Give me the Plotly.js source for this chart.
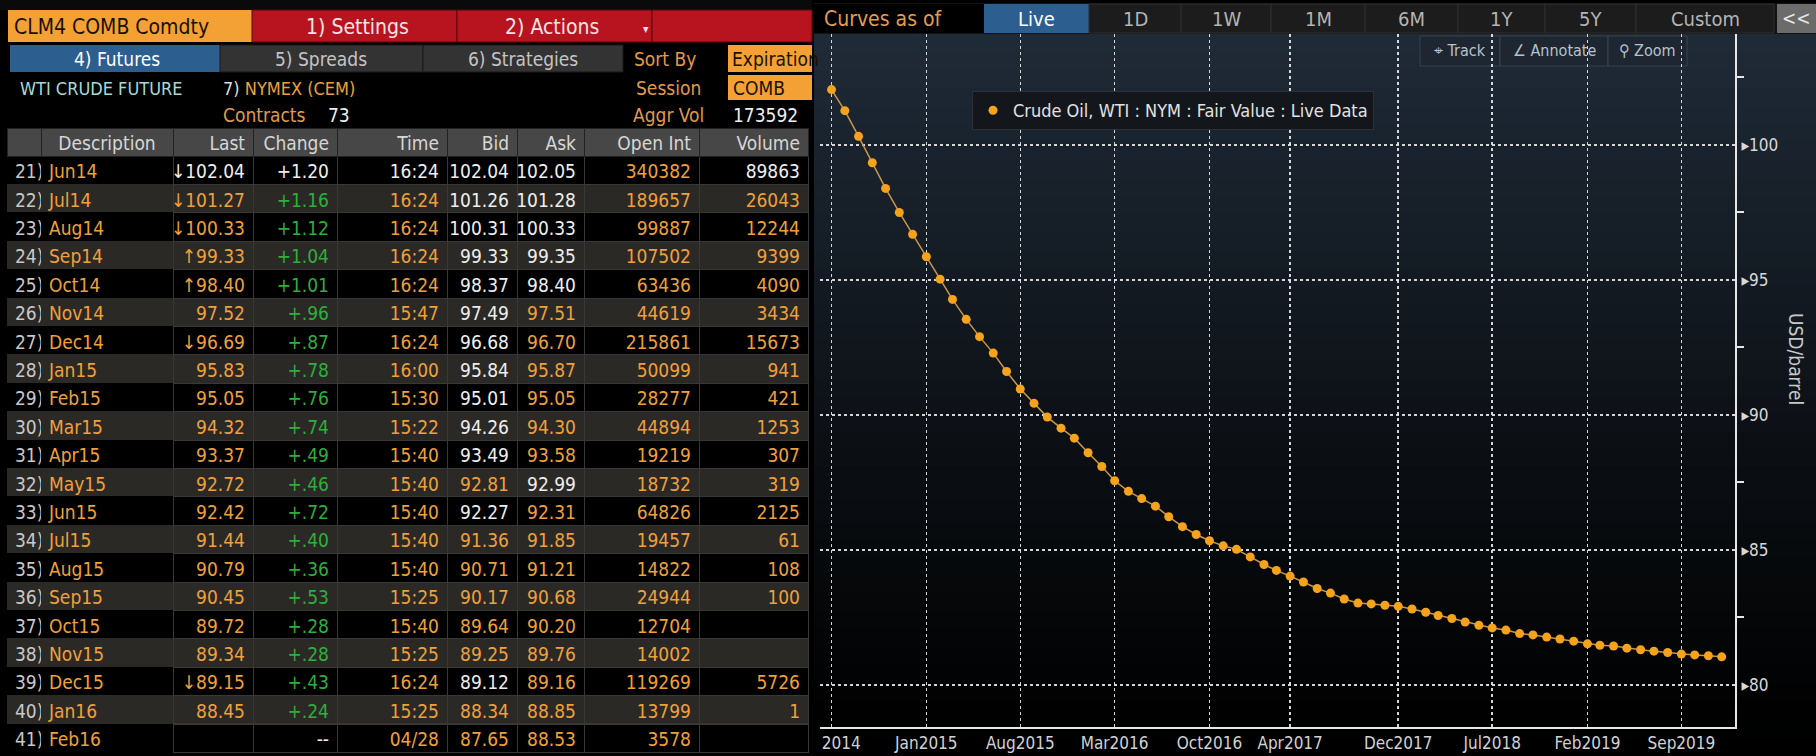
<!DOCTYPE html>
<html><head><meta charset="utf-8">
<script src="https://cdn.plot.ly/plotly-3.0.1.min.js"></script>
<style>html,body{margin:0;padding:0;background:#000;overflow:hidden}#chart{width:1816px;height:756px}</style>
</head><body><div id="chart"></div>
<script>
// ---------------- data ----------------
const rowNumbers = [21,22,23,24,25,26,27,28,29,30,31,32,33,34,35,36,37,38,39,40,41];
const contracts = ["Jun14","Jul14","Aug14","Sep14","Oct14","Nov14","Dec14","Jan15","Feb15","Mar15","Apr15","May15","Jun15","Jul15","Aug15","Sep15","Oct15","Nov15","Dec15","Jan16","Feb16"];
const lastPrices = [102.04,101.27,100.33,99.33,98.40,97.52,96.69,95.83,95.05,94.32,93.37,92.72,92.42,91.44,90.79,90.45,89.72,89.34,89.15,88.45,null];
const lastTickDir = ["↓","↓","↓","↑","↑","","↓","","","","","","","","","","","","↓","",""];
const netChanges = [1.20,1.16,1.12,1.04,1.01,0.96,0.87,0.78,0.76,0.74,0.49,0.46,0.72,0.40,0.36,0.53,0.28,0.28,0.43,0.24,null];
const tradeTimes = ["16:24","16:24","16:24","16:24","16:24","15:47","16:24","16:00","15:30","15:22","15:40","15:40","15:40","15:40","15:40","15:25","15:40","15:25","16:24","15:25","04/28"];
const bids = [102.04,101.26,100.31,99.33,98.37,97.49,96.68,95.84,95.01,94.26,93.49,92.81,92.27,91.36,90.71,90.17,89.64,89.25,89.12,88.34,87.65];
const asks = [102.05,101.28,100.33,99.35,98.40,97.51,96.70,95.87,95.05,94.30,93.58,92.99,92.31,91.85,91.21,90.68,90.20,89.76,89.16,88.85,88.53];
const openInterest = [340382,189657,99887,107502,63436,44619,215861,50099,28277,44894,19219,18732,64826,19457,14822,24944,12704,14002,119269,13799,3578];
const volumes = [89863,26043,12244,9399,4090,3434,15673,941,421,1253,307,319,2125,61,108,100,null,null,5726,1,null];

const curveMonths = ["2014-06","2014-07","2014-08","2014-09","2014-10","2014-11","2014-12",
 "2015-01","2015-02","2015-03","2015-04","2015-05","2015-06","2015-07","2015-08","2015-09","2015-10","2015-11","2015-12",
 "2016-01","2016-02","2016-03","2016-04","2016-05","2016-06","2016-07","2016-08","2016-09","2016-10","2016-11","2016-12",
 "2017-01","2017-02","2017-03","2017-04","2017-05","2017-06","2017-07","2017-08","2017-09","2017-10","2017-11","2017-12",
 "2018-01","2018-02","2018-03","2018-04","2018-05","2018-06","2018-07","2018-08","2018-09","2018-10","2018-11","2018-12",
 "2019-01","2019-02","2019-03","2019-04","2019-05","2019-06","2019-07","2019-08","2019-09","2019-10","2019-11","2019-12"];
const curveValues = [102.05,101.27,100.32,99.34,98.39,97.50,96.69,
 95.86,95.03,94.28,93.54,92.90,92.29,91.61,90.96,90.43,89.92,89.51,89.14,
 88.60,88.09,87.56,87.17,86.90,86.62,86.23,85.86,85.57,85.34,85.15,85.02,
 84.74,84.46,84.24,84.03,83.81,83.57,83.40,83.18,83.03,83.00,82.95,82.91,
 82.81,82.69,82.57,82.46,82.33,82.21,82.11,82.03,81.90,81.85,81.77,81.70,
 81.62,81.52,81.47,81.44,81.36,81.30,81.25,81.20,81.14,81.11,81.08,81.04];
const xTickVals = ["2014-06-01","2015-01-01","2015-08-01","2016-03-01","2016-10-01","2017-04-01","2017-12-01","2018-07-01","2019-02-01","2019-09-01"];
const xTickText = ["2014","Jan2015","Aug2015","Mar2016","Oct2016","Apr2017","Dec2017","Jul2018","Feb2019","Sep2019"];
const seriesName = "Crude Oil, WTI : NYM : Fair Value : Live Data";
const tableHeaders = ["","Description","Last","Change","Time","Bid","Ask","Open\u00a0Int","Volume"];
const rangeButtons = ["Live","1D","1W","1M","6M","1Y","5Y","Custom"];

// ---------------- styling ----------------
const W = 1816, H = 756;
const F = '"Liberation Sans Narrow","DejaVu Sans Condensed","Arial Narrow",sans-serif';
const ORANGE = '#efa03a', WHITE = '#eeeeee', GREEN = '#2fae3a', GRAY = '#c8c8c8', TAN = '#e09a4c';
const px = x => x / W, py = y => 1 - y / H;
// which bid / ask quotes shown in white (Bloomberg live highlight)
const bidWhite = [1,1,1,1,1,1,1,1,1,1,1,0,1,0,0,0,0,0,1,0,0];
const askWhite = [1,1,1,1,1,0,0,0,0,0,0,1,0,0,0,0,0,0,0,0,0];

const fmtChg = v => v == null ? '--' : '+' + (v >= 1 ? v.toFixed(2) : v.toFixed(2).slice(1));
const cellVals = [
  rowNumbers.map(r => r + ')'),
  contracts,
  lastPrices.map((v, i) => v == null ? '' : lastTickDir[i] + v.toFixed(2)),
  netChanges.map(fmtChg),
  tradeTimes,
  bids.map(v => v.toFixed(2)),
  asks.map(v => v.toFixed(2)),
  openInterest.map(String),
  volumes.map(v => v == null ? '' : String(v))
];
const rowFill = rowNumbers.map((r, i) => i % 2 ? '#2a2926' : '#000000');
const fills = cellVals.map(() => rowFill);
const lines = cellVals.map((c, ci) => ci < 2 ? rowFill : rowFill.map(() => '#383838'));
const fontColors = [
  rowNumbers.map(() => GRAY),
  contracts.map(() => ORANGE),
  lastPrices.map((v, i) => i === 0 ? WHITE : ORANGE),
  netChanges.map((v, i) => (i === 0 || v == null) ? WHITE : GREEN),
  tradeTimes.map((v, i) => i === 0 ? WHITE : ORANGE),
  bidWhite.map(b => b ? WHITE : ORANGE),
  askWhite.map(b => b ? WHITE : ORANGE),
  openInterest.map(() => ORANGE),
  volumes.map((v, i) => i === 0 ? WHITE : ORANGE)
];

const table = {
  type: 'table',
  domain: {x: [px(7), px(808)], y: [0, py(128)]},
  columnwidth: [34, 132, 80, 84, 110, 70, 67, 115, 109],
  header: {
    values: tableHeaders,
    align: ['right','center','right','right','right','right','right','right','right'],
    height: 28,
    fill: {color: '#474747'},
    line: {color: '#222222', width: 1},
    font: {family: F, size: 19, color: '#d6d6d6'}
  },
  cells: {
    values: cellVals,
    align: ['left','left','right','right','right','right','right','right','right'],
    height: 28.4,
    fill: {color: fills},
    line: {color: lines, width: 1},
    font: {family: F, size: 19, color: fontColors}
  }
};

const lineTrace = {
  type: 'scatter', mode: 'lines', x: curveMonths, y: curveValues,
  line: {color: '#c9964a', width: 1.5}, showlegend: false, hoverinfo: 'skip'
};
const markerTrace = {
  type: 'scatter', mode: 'markers', x: curveMonths, y: curveValues, name: seriesName,
  marker: {color: '#f5a31c', size: 9}
};

// ---------- shapes ----------
const shapes = [];
const rect = (x0, y0, x1, y1, fill, line) => shapes.push({
  type: 'rect', xref: 'paper', yref: 'paper', layer: 'below',
  x0: px(x0), x1: px(x1), y0: py(y1), y1: py(y0),
  fillcolor: fill, line: {width: line ? 1 : 0, color: line || fill}
});
// chart background gradient
const bands = 40, gTop = 34, gBot = 756;
for (let i = 0; i < bands; i++) {
  const t = i / (bands - 1);
  const k = Math.pow(1 - t, 1.15);
  const c = `rgb(${Math.round(31 * k)},${Math.round(42 * k)},${Math.round(55 * k)})`;
  const y0 = gTop + (gBot - gTop) * i / bands, y1 = gTop + (gBot - gTop) * (i + 1) / bands + 1;
  rect(814, y0, 1816, y1, c);
}
// left header blocks
rect(0, 0, 812, 10, '#0a0a0a');
rect(8, 10, 252, 42, '#f3a134');
rect(252, 10, 457, 42, '#b8141f', '#5a070c');
rect(457, 10, 652, 42, '#b8141f', '#5a070c');
rect(652, 10, 812, 42, '#b8141f', '#5a070c');
rect(10, 45, 220, 72, '#2d5e90');
rect(220, 45, 423, 72, '#333333', '#1a1a1a');
rect(423, 45, 623, 72, '#333333', '#1a1a1a');
rect(728, 45, 812, 72, '#f3a134');
rect(728, 75, 812, 100, '#f3a134');
// chart header bar
rect(814, 3, 1816, 34, '#121212');
rect(814, 4, 984, 33, '#000000');
const btnEdges = [984, 1089, 1181, 1271, 1365, 1458, 1545, 1636, 1774];
for (let i = 0; i < rangeButtons.length; i++) {
  rect(btnEdges[i], 4, btnEdges[i + 1], 33, i === 0 ? '#2d5e90' : '#1c1c1c', i === 0 ? null : '#2e2e2e');
}
rect(1777, 4, 1816, 33, '#6b6b6b');
// toolbar
rect(1420, 36, 1500, 66, '#1d2631', '#39424e');
rect(1500, 36, 1608, 66, '#1d2631', '#39424e');
rect(1608, 36, 1687, 66, '#1d2631', '#39424e');

// ---------- annotations ----------
const annotations = [];
const txt = (text, x, y, size, color, xanchor, extra) => annotations.push(Object.assign({
  text, x: px(x), y: py(y), xref: 'paper', yref: 'paper', xanchor: xanchor || 'left', yanchor: 'middle',
  showarrow: false, font: {family: F, size, color}
}, extra || {}));
txt('CLM4 COMB Comdty', 12, 27, 21, '#1a1000');
txt('1) Settings', 357, 27, 21, '#f2e4e4', 'center');
txt('2) Actions', 552, 27, 21, '#f2e4e4', 'center');
txt('▾', 646, 29, 12, '#f2e4e4', 'center');
txt('4) Futures', 117, 59, 19, '#ffffff', 'center');
txt('5) Spreads', 321, 59, 19, '#c4c4c4', 'center');
txt('6) Strategies', 523, 59, 19, '#c4c4c4', 'center');
txt('Sort By', 632, 59, 19, TAN);
txt('Expiration', 730, 59, 19, '#1a1000');
txt('WTI CRUDE FUTURE', 18, 88, 18, '#a9d9d2');
txt('7) <span style="color:' + ORANGE + '">NYMEX (CEM)</span>', 221, 88, 18, '#dddddd');
txt('Session', 634, 88, 19, TAN);
txt('COMB', 731, 88, 19, '#1a1000');
txt('Contracts', 221, 115, 19, TAN);
txt('73', 352, 115, 19, WHITE, 'right');
txt('Aggr Vol', 631, 115, 19, TAN);
txt('173592', 731, 115, 19, WHITE);
// chart header
txt('Curves as of', 822, 19, 21, '#e39b52');
for (let i = 0; i < rangeButtons.length; i++) {
  txt(rangeButtons[i], (btnEdges[i] + btnEdges[i + 1]) / 2, 19, 20, i === 0 ? '#ffffff' : '#b4b4b4', 'center');
}
txt('<<', 1796, 18, 19, '#e6e6e6', 'center');
txt('⌖ Track', 1460, 51, 16, '#b9c1ca', 'center');
txt('∠ Annotate', 1554, 51, 16, '#b9c1ca', 'center');
txt('⚲ Zoom', 1647, 51, 16, '#b9c1ca', 'center');
txt('USD/barrel', 1796, 359, 19, '#c8c8c8', 'center', {textangle: 90});

const layout = {
  width: W, height: H, autosize: false,
  margin: {l: 0, r: 0, t: 0, b: 0, pad: 0},
  paper_bgcolor: '#000000', plot_bgcolor: 'rgba(0,0,0,0)',
  showlegend: true,
  legend: {x: px(972), y: py(91), xanchor: 'left', yanchor: 'top', bgcolor: '#13171c',
    bordercolor: '#2a3139', borderwidth: 1, font: {family: F, size: 18, color: '#e2e2e2'}},
  xaxis: {
    type: 'date', domain: [px(820), px(1735)], range: ['2014-05-06', '2019-12-31'],
    tickmode: 'array', tickvals: xTickVals,
    ticktext: xTickText.map((t, i) => i === 0 ? '\u00a0\u00a0\u00a0\u00a0' + t : t),
    showgrid: true, gridcolor: 'rgba(235,235,235,0.9)', griddash: 'dot', gridwidth: 1.5,
    showline: true, linecolor: '#e6e6e6', linewidth: 2, ticks: '', zeroline: false,
    tickfont: {family: F, size: 17, color: '#d2d2d2'}
  },
  yaxis: {
    side: 'right', domain: [1 - 727 / H, py(34)], range: [78.44, 104.11],
    tickmode: 'linear', tick0: 0, dtick: 5, tickprefix: '▸',
    showgrid: true, gridcolor: 'rgba(235,235,235,0.9)', griddash: 'dot', gridwidth: 1.5,
    showline: true, linecolor: '#e6e6e6', linewidth: 2,
    ticks: 'outside', ticklen: 1, tickwidth: 1, tickcolor: 'rgba(0,0,0,0)', zeroline: false,
    minor: {tickmode: 'linear', tick0: 0, dtick: 2.5, ticks: 'outside', ticklen: 7, tickwidth: 2, tickcolor: '#e6e6e6', showgrid: false},
    tickfont: {family: F, size: 17, color: '#d8d8d8'}
  },
  shapes, annotations
};

Plotly.newPlot('chart', [table, lineTrace, markerTrace], layout, {displayModeBar: false, staticPlot: true});
</script></body></html>
